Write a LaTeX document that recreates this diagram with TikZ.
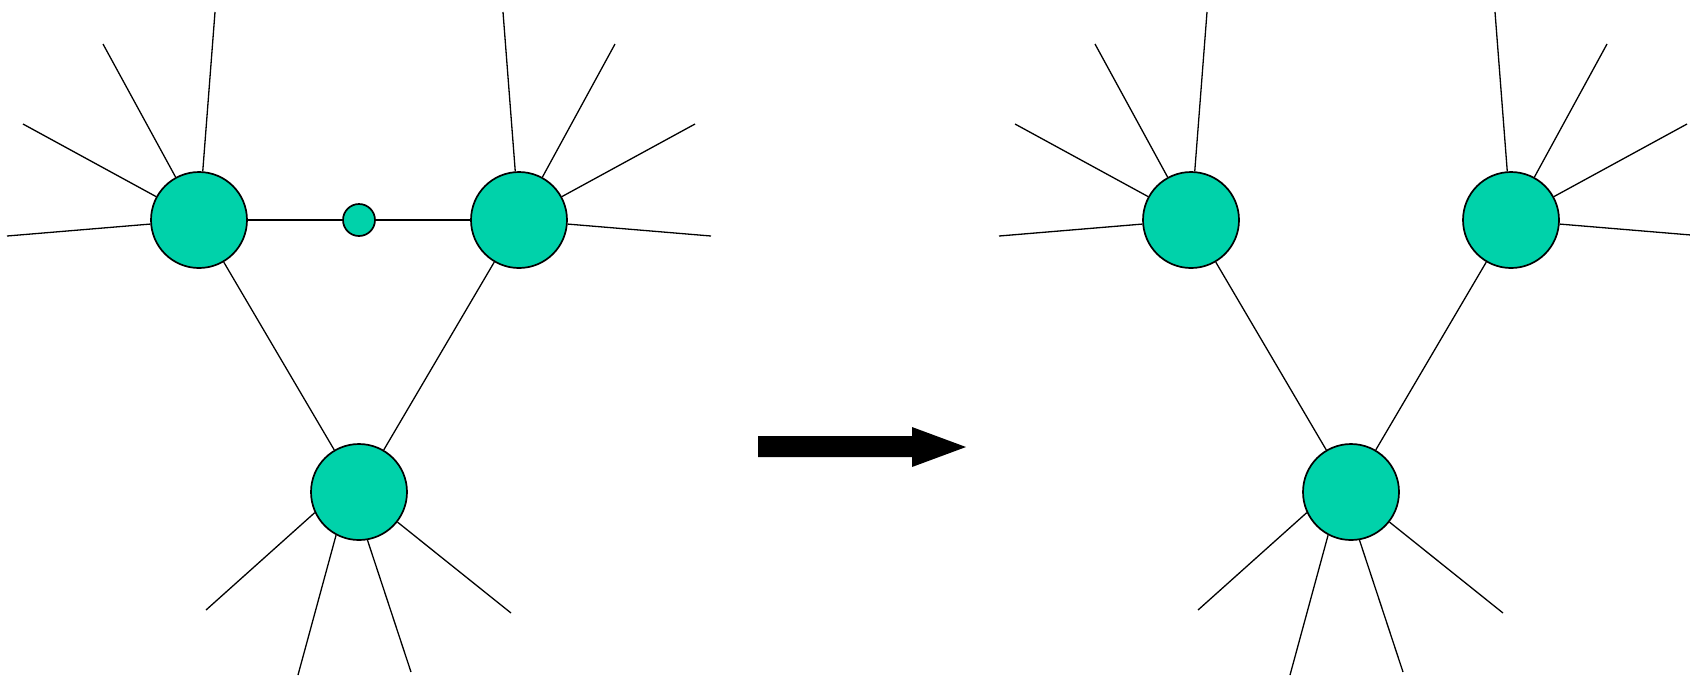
\documentclass[tikz,border=0pt]{standalone}
\definecolor{nodegreen}{HTML}{00D2AA}
\tikzset{
  bignode/.style={circle, draw=black, line width=0.85pt, fill=nodegreen, minimum size=48pt, inner sep=0pt},
  smallnode/.style={circle, draw=black, line width=0.85pt, fill=nodegreen, minimum size=16pt, inner sep=0pt},
  spoke/.style={draw=black, line width=0.65pt},
}
\begin{document}
\begin{tikzpicture}[x=0.5pt, y=-0.5pt]
\useasboundingbox (0,0) rectangle (1690,677);
\clip (0,0) rectangle (1690,677);
% ---------- left graph ----------
\node[bignode] (A) at (199,220) {};
\node[smallnode] (S) at (359,220) {};
\node[bignode] (B) at (519,220) {};
\node[bignode] (C) at (359,492) {};
\coordinate (a1) at (215,12);
\coordinate (a2) at (103,44);
\coordinate (a3) at (23,124);
\coordinate (a4) at (7,236);
\coordinate (b1) at (503,12);
\coordinate (b2) at (615,44);
\coordinate (b3) at (695,124);
\coordinate (b4) at (711,236);
\coordinate (c1) at (206,610);
\coordinate (c2) at (298,675);
\coordinate (c3) at (411,672);
\coordinate (c4) at (511,613);
\foreach \p in {a1,a2,a3,a4} \draw[spoke] (A) -- (\p);
\foreach \p in {b1,b2,b3,b4} \draw[spoke] (B) -- (\p);
\draw[spoke] (C.205.5) -- (c1);
\draw[spoke] (C.242) -- (c2);
\draw[spoke] (C.280.6) -- (c3);
\draw[spoke] (C.322.4) -- (c4);
\draw[spoke] (A) -- (S);
\draw[spoke] (S) -- (B);
\draw[spoke] (A) -- (C);
\draw[spoke] (B) -- (C);
% ---------- arrow ----------
\fill[black] (758,436) -- (912,436) -- (912,427) -- (966,447) -- (912,467) -- (912,457) -- (758,457) -- cycle;
% ---------- right graph ----------
\node[bignode] (A2) at (1191,220) {};
\node[bignode] (B2) at (1511,220) {};
\node[bignode] (C2) at (1351,492) {};
\coordinate (d1) at (1207,12);
\coordinate (d2) at (1095,44);
\coordinate (d3) at (1015,124);
\coordinate (d4) at (999,236);
\coordinate (e1) at (1495,12);
\coordinate (e2) at (1607,44);
\coordinate (e3) at (1687,124);
\coordinate (e4) at (1703,236);
\coordinate (f1) at (1198,610);
\coordinate (f2) at (1290,675);
\coordinate (f3) at (1403,672);
\coordinate (f4) at (1503,613);
\foreach \p in {d1,d2,d3,d4} \draw[spoke] (A2) -- (\p);
\foreach \p in {e1,e2,e3,e4} \draw[spoke] (B2) -- (\p);
\draw[spoke] (C2.205.5) -- (f1);
\draw[spoke] (C2.242) -- (f2);
\draw[spoke] (C2.280.6) -- (f3);
\draw[spoke] (C2.322.4) -- (f4);
\draw[spoke] (A2) -- (C2);
\draw[spoke] (B2) -- (C2);
\end{tikzpicture}
\end{document}
